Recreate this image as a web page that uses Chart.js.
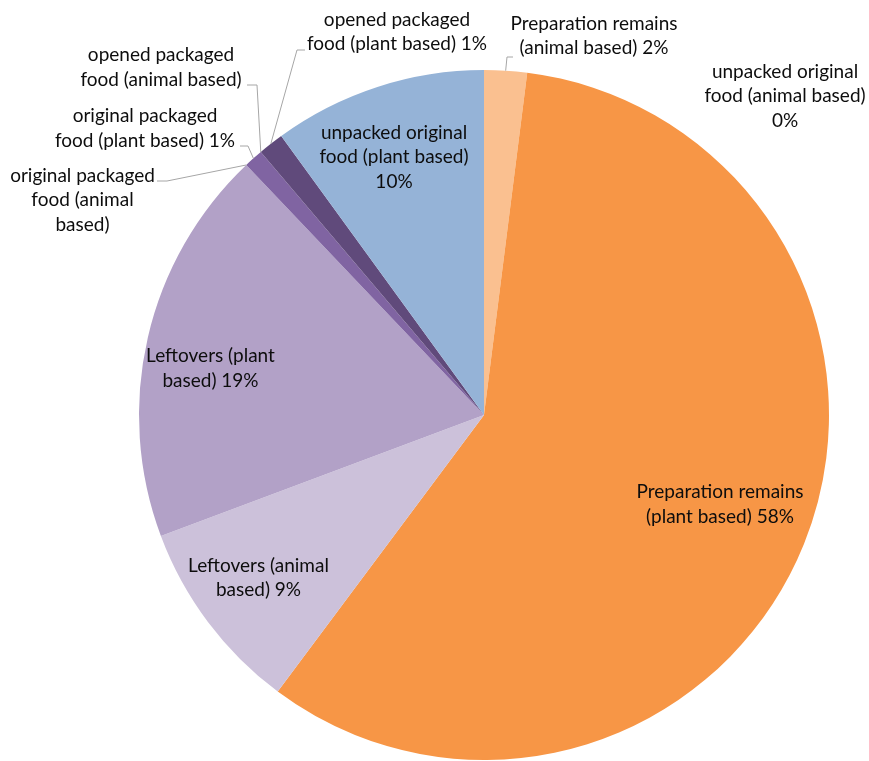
<!DOCTYPE html>
<html>
<head>
<meta charset="utf-8">
<title>Food waste composition</title>
<script src="https://cdn.jsdelivr.net/npm/chart.js@4.4.0/dist/chart.umd.min.js"></script>
<style>
  html, body { margin: 0; padding: 0; background: #fff; }
  #wrap { width: 869px; height: 761px; }
</style>
</head>
<body>
<div id="wrap"><canvas id="myChart" width="869" height="761"></canvas></div>
<script>
// Slices in drawing order, clockwise from 12 o'clock
var categories = [
  "Preparation remains (animal based)",
  "unpacked original food (animal based)",
  "Preparation remains (plant based)",
  "Leftovers (animal based)",
  "Leftovers (plant based)",
  "original packaged food (animal based)",
  "original packaged food (plant based)",
  "opened packaged food (animal based)",
  "opened packaged food (plant based)",
  "unpacked original food (plant based)"
];
var shares = [2.0, 0, 58.2, 9.1, 18.6, 0, 0.9, 0, 1.2, 10.0];

// wrapped label text, {p} is replaced by the rounded share
var labelLines = [
  ["Preparation remains", "(animal based) {p}"],
  ["unpacked original", "food (animal based)", "{p}"],
  ["Preparation remains", "(plant based) {p}"],
  ["Leftovers (animal", "based) {p}"],
  ["Leftovers (plant", "based) {p}"],
  ["original packaged", "food (animal", "based)"],
  ["original packaged", "food (plant based) {p}"],
  ["opened packaged", "food (animal based)"],
  ["opened packaged", "food (plant based) {p}"],
  ["unpacked original", "food (plant based)", "{p}"]
];

var sliceColors = ["#FAC090", "#FAC090", "#F79646", "#CCC1DA", "#B2A1C7",
                   "#8064A2", "#8064A2", "#604A7B", "#604A7B", "#95B3D7"];

// label block centres, relative to the pie centre
var labelOffsets = [
  [110, -379], [301, -319], [236, 89.5], [-225.5, 163], [-273.5, -46.5],
  [-401.5, -215], [-339, -286.5], [-323, -347.5], [-87, -383], [-90, -258]
];
// leader lines: end point next to the label (relative to centre) and a short horizontal stub
var leaders = [
  { end: [29, -358], stub: -6 },
  null, null, null, null,
  { end: [-327, -234], stub: 10 },
  { end: [-244, -269], stub: 8 },
  { end: [-237, -330], stub: 10 },
  { end: [-179, -365], stub: -8 },
  null
];

var total = shares.reduce(function(a, b) { return a + b; }, 0);

var sliceLabels = {
  id: 'sliceLabels',
  afterDatasetsDraw: function(chart) {
    var ctx = chart.ctx;
    var arcs = chart.getDatasetMeta(0).data;
    var lineH = 24.5;
    ctx.save();
    ctx.font = '19px Lato, "Liberation Sans", sans-serif';
    ctx.textAlign = 'center';
    ctx.textBaseline = 'middle';
    arcs.forEach(function(arc, i) {
      var p = arc.getProps(['x', 'y', 'startAngle', 'endAngle', 'outerRadius'], true);
      var pct = Math.round(shares[i] / total * 100) + '%';

      var ld = leaders[i];
      if (ld) {
        var mid = (p.startAngle + p.endAngle) / 2;
        var ax = p.x + Math.cos(mid) * p.outerRadius;
        var ay = p.y + Math.sin(mid) * p.outerRadius;
        var ex = p.x + ld.end[0], ey = p.y + ld.end[1];
        ctx.beginPath();
        ctx.strokeStyle = '#a6a6a6';
        ctx.lineWidth = 1;
        ctx.moveTo(ex, ey);
        ctx.lineTo(ex + ld.stub, ey);
        ctx.lineTo(ax, ay);
        ctx.stroke();
      }

      ctx.fillStyle = '#0d0d0d';
      var lines = labelLines[i];
      var lx = p.x + labelOffsets[i][0];
      var ly = p.y + labelOffsets[i][1];
      lines.forEach(function(t, k) {
        ctx.fillText(t.replace('{p}', pct), lx, ly + (k - (lines.length - 1) / 2) * lineH);
      });
    });
    ctx.restore();
  }
};

var chartCanvas = document.getElementById('myChart');
var myChart = new Chart(chartCanvas, {
  type: 'pie',
  data: {
    labels: categories,
    datasets: [{
      data: shares,
      backgroundColor: sliceColors,
      borderWidth: 0,
      hoverOffset: 0,
      offset: 0
    }]
  },
  options: {
    responsive: false,
    animation: false,
    layout: { padding: { left: 139, right: 40, top: 70, bottom: 1 } },
    plugins: {
      legend: { display: false },
      tooltip: { enabled: false }
    }
  },
  plugins: [sliceLabels]
});
</script>
</body>
</html>
